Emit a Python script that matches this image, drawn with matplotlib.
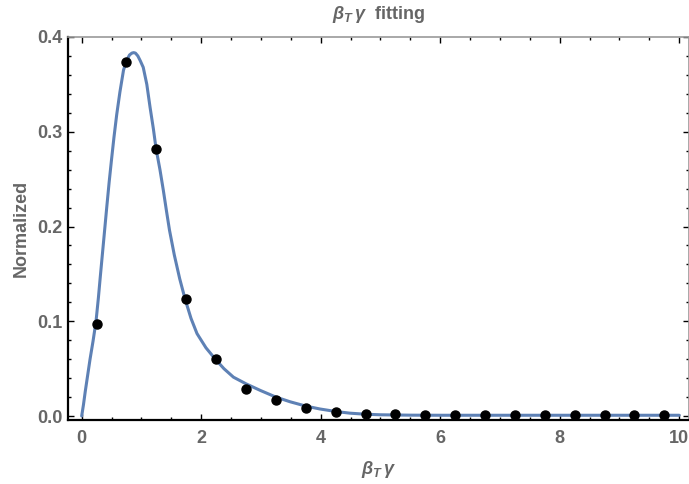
import numpy as np
import matplotlib
matplotlib.use("Agg")
import matplotlib.pyplot as plt
from matplotlib.ticker import MultipleLocator

data_x = [0.25, 0.75, 1.25, 1.75, 2.25, 2.75, 3.25, 3.75, 4.25, 4.75,
          5.25, 5.75, 6.25, 6.75, 7.25, 7.75, 8.25, 8.75, 9.25, 9.75]
data_y = [0.097, 0.374, 0.282, 0.1235, 0.0605, 0.0288, 0.0165, 0.0081, 0.0046, 0.0019,
          0.0019, 0.0013, 0.0009, 0.0009, 0.0009, 0.0009, 0.0009, 0.0009, 0.0009, 0.0009]

# fitted curve
fit_x = [0.0, 0.03, 0.06, 0.10, 0.14, 0.19, 0.24, 0.28, 0.31, 0.335, 0.375, 0.419, 0.46,
         0.50, 0.54, 0.586, 0.64, 0.70, 0.75, 0.80, 0.84, 0.87, 0.90, 0.94, 0.98, 1.03,
         1.09, 1.144, 1.20, 1.245, 1.31, 1.367, 1.42, 1.47, 1.55, 1.64, 1.73, 1.83, 1.93,
         2.08, 2.23, 2.38, 2.54, 2.75, 2.99, 3.25, 3.49, 3.75, 3.99, 4.25, 4.49, 4.75,
         5.0, 5.5, 6.0, 7.0, 8.0, 9.0, 10.0]
fit_y = [0.0, 0.012, 0.026, 0.043, 0.060, 0.079, 0.100, 0.125, 0.146, 0.163, 0.190, 0.220, 0.247,
         0.271, 0.294, 0.318, 0.342, 0.365, 0.375, 0.381, 0.383, 0.3835, 0.383, 0.380, 0.375, 0.368,
         0.350, 0.326, 0.303, 0.282, 0.260, 0.238, 0.216, 0.196, 0.170, 0.145, 0.1235, 0.103, 0.087,
         0.072, 0.0605, 0.050, 0.041, 0.034, 0.027, 0.020, 0.015, 0.0105, 0.0074, 0.0048, 0.003, 0.0019,
         0.0013, 0.0009, 0.0008, 0.0008, 0.0008, 0.0008, 0.0008]

plt.rcParams['font.family'] = ['Liberation Sans', 'DejaVu Sans']
plt.rcParams['font.weight'] = 'bold'
plt.rcParams['axes.labelweight'] = 'bold'
plt.rcParams['mathtext.fontset'] = 'custom'
plt.rcParams['mathtext.it'] = 'Liberation Sans:italic:bold'
plt.rcParams['mathtext.rm'] = 'Liberation Sans:bold'
plt.rcParams['mathtext.bf'] = 'Liberation Sans:bold'

gray = '#666666'
blue = '#5E81B5'

fig = plt.figure(figsize=(6.89, 4.84), dpi=100)
ax = fig.add_axes([68 / 689, 64 / 484, 621 / 689, 383 / 484])

ax.plot(fit_x, fit_y, color=blue, lw=2.2, solid_capstyle='round',
        solid_joinstyle='round', zorder=2)
ax.plot(data_x, data_y, 'o', color='black', ms=6.5, zorder=3)

ax.set_xlim(-0.229, 10.164)
ax.set_ylim(-0.0042, 0.4)

ax.xaxis.set_major_locator(MultipleLocator(2))
ax.xaxis.set_minor_locator(MultipleLocator(0.5))
ax.yaxis.set_major_locator(MultipleLocator(0.1))
ax.yaxis.set_minor_locator(MultipleLocator(0.02))
ax.yaxis.set_major_formatter(plt.FuncFormatter(lambda v, p: f'{v:.1f}'))

ax.tick_params(which='both', direction='in', top=True, right=True,
               labelsize=13, labelcolor=gray, width=1.0, color='black')
ax.tick_params(which='major', length=4.5)
ax.tick_params(which='minor', length=2.5)
ax.tick_params(axis='x', pad=7)
ax.tick_params(axis='y', pad=4)

for side in ('left', 'bottom'):
    ax.spines[side].set_color('black')
    ax.spines[side].set_linewidth(1.6)
for side in ('top', 'right'):
    ax.spines[side].set_color('#999999')
    ax.spines[side].set_linewidth(1.2)

ax.set_title(r'$\beta_T\,\gamma$  fitting', color=gray, fontsize=13,
             fontweight='bold', pad=13)
ax.set_xlabel(r'$\beta_T\,\gamma$', color=gray, fontsize=13, labelpad=9)
ax.set_ylabel('Normalized', color=gray, fontsize=13, fontweight='bold', labelpad=5)

fig.savefig('out.png', dpi=100)
